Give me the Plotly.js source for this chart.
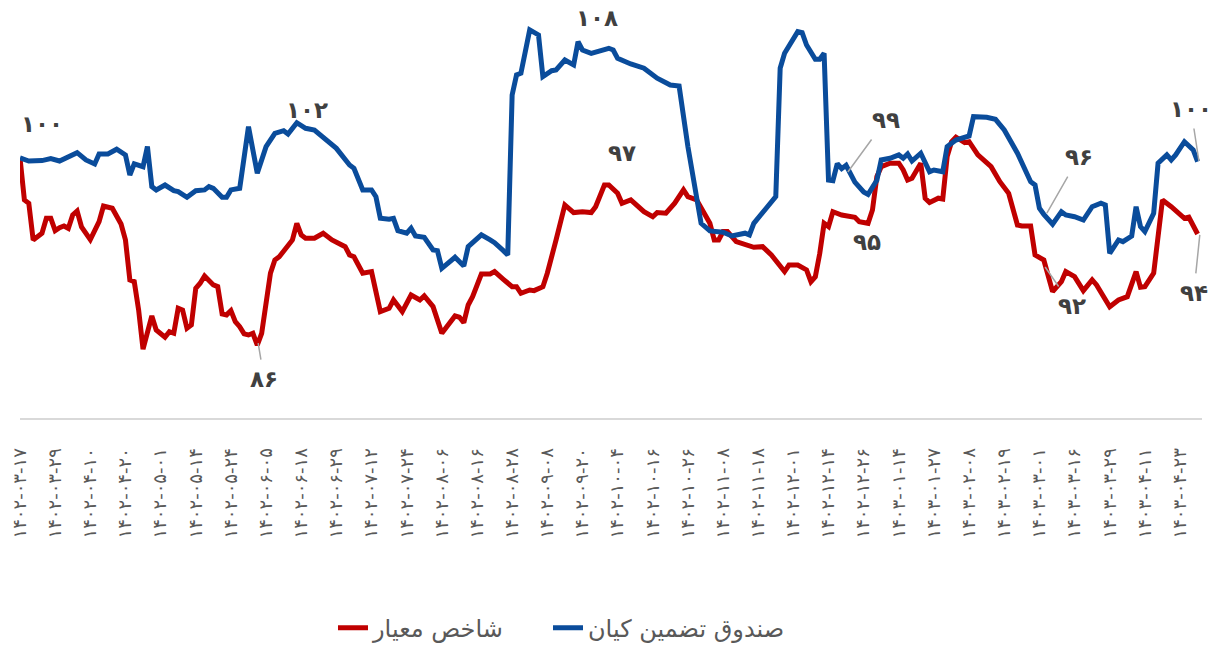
<!DOCTYPE html>
<html>
<head>
<meta charset="utf-8">
<script src="https://cdn.plot.ly/plotly-3.0.1.min.js"></script>
<style>
html,body{margin:0;padding:0;background:#fff;}
#chart{width:1217px;height:647px;}
</style>
</head>
<body>
<div id="chart"></div>
<script>
// Trading-day index of each tick label
const tickDays = [0,8,16,24,32,40,48,56,64,72,80,88,96,104,112,120,128,136,144,152,160,168,176,184,192,200,208,216,224,232,240,248,256,264];
const tickLabels = [
  "۱۴۰۲-۰۳-۱۷","۱۴۰۲-۰۳-۲۹","۱۴۰۲-۰۴-۱۰","۱۴۰۲-۰۴-۲۰","۱۴۰۲-۰۵-۰۱","۱۴۰۲-۰۵-۱۴","۱۴۰۲-۰۵-۲۴",
  "۱۴۰۲-۰۶-۰۵","۱۴۰۲-۰۶-۱۸","۱۴۰۲-۰۶-۲۹","۱۴۰۲-۰۷-۱۲","۱۴۰۲-۰۷-۲۴","۱۴۰۲-۰۸-۰۶","۱۴۰۲-۰۸-۱۶",
  "۱۴۰۲-۰۸-۲۸","۱۴۰۲-۰۹-۰۸","۱۴۰۲-۰۹-۲۰","۱۴۰۲-۱۰-۰۴","۱۴۰۲-۱۰-۱۶","۱۴۰۲-۱۰-۲۶","۱۴۰۲-۱۱-۰۸",
  "۱۴۰۲-۱۱-۱۸","۱۴۰۲-۱۲-۰۱","۱۴۰۲-۱۲-۱۴","۱۴۰۲-۱۲-۲۶","۱۴۰۳-۰۱-۱۴","۱۴۰۳-۰۱-۲۷","۱۴۰۳-۰۲-۰۸",
  "۱۴۰۳-۰۲-۱۹","۱۴۰۳-۰۳-۰۱","۱۴۰۳-۰۳-۱۶","۱۴۰۳-۰۳-۲۹","۱۴۰۳-۰۴-۱۱","۱۴۰۳-۰۴-۲۳"
];

// صندوق تضمین کیان (fund)
const fundDays = [0,2,5,7,9,11,13,15,17,18,20,22,24,25,26,28,29,30,31,33,35,36,38,40,42,43,44,46,47,48,50,52,54,56,58,60,61,63,65,67,69,72,75,76,78,80,81,82,84,85,86,88,89,90,92,94,95,96,99,101,102,105,107,108,110,111,112,113,114,116,118,119,121,122,124,126,127,128,130,134,135,136,139,142,145,148,150,152,155,157,160,162,165,166,167,170,172,173,174,177,178,179,181,182,183,184,185,186,187,188,190,192,193,195,196,198,200,201,202,203,205,207,208,210,211,213,215,216,217,220,222,224,227,230,231,232,233,235,237,238,240,242,244,246,247,248,250,251,253,254,255,256,258,259,261,262,263,265,267,268];
const fundValues = [100.00,99.77,99.80,99.95,99.77,100.05,100.40,99.85,99.55,100.30,100.30,100.66,100.23,98.71,99.55,99.34,100.86,97.83,97.58,97.95,97.52,97.45,97.02,97.52,97.58,97.83,97.70,97.02,97.02,97.58,97.70,102.37,98.84,100.86,101.87,102.07,101.82,102.67,102.25,102.12,101.61,100.73,99.47,99.22,97.58,97.58,97.07,95.43,95.36,95.43,94.49,94.30,94.67,94.09,93.99,93.03,92.98,91.64,92.48,91.82,93.28,94.17,93.79,93.58,92.98,92.65,104.77,106.29,106.42,109.70,109.32,106.16,106.61,106.67,107.42,107.05,108.81,108.18,107.93,108.31,108.18,107.55,107.12,106.80,106.04,105.53,105.45,100.86,95.05,94.47,94.37,94.09,94.30,94.17,95.05,96.19,97.07,106.80,107.93,109.57,109.49,108.56,107.48,107.48,107.93,98.33,98.28,99.57,99.19,99.44,98.17,97.42,97.24,98.30,99.85,99.98,100.23,99.98,100.30,99.77,100.36,98.96,99.09,98.96,100.86,101.36,101.61,101.67,103.13,103.08,102.93,102.12,100.36,98.20,97.95,96.19,95.73,94.98,95.93,95.68,95.55,95.30,96.31,96.57,96.44,92.78,93.79,93.66,94.09,96.31,94.80,94.42,95.81,99.60,100.23,99.85,100.23,101.23,100.61,99.72];

// شاخص معیار (benchmark)
const benchDays = [0,1,2,3,5,6,7,8,9,10,11,12,13,14,16,18,19,21,23,24,25,26,27,28,30,31,33,34,35,36,37,38,39,40,41,42,44,45,46,47,48,49,50,51,52,53,54,55,57,58,59,60,61,62,63,64,65,67,69,71,74,75,76,78,80,82,84,85,87,89,91,92,94,95,96,99,100,101,102,103,105,107,108,110,112,113,114,116,117,119,120,122,124,126,128,130,131,133,134,136,137,139,142,144,145,147,149,151,152,154,156,157,158,159,160,161,163,165,167,169,171,174,175,177,179,180,181,182,183,184,185,187,190,191,193,194,195,196,198,200,201,202,203,205,206,207,209,210,211,212,213,215,216,218,220,221,223,225,227,228,230,231,233,235,237,238,240,242,244,245,248,250,252,254,255,256,258,260,262,265,266,268];
const benchValues = [100.00,96.82,96.57,93.79,94.30,95.43,95.43,94.49,94.72,94.85,94.67,95.68,95.98,94.77,93.81,95.17,96.36,96.19,95.00,93.79,90.76,90.63,88.48,85.51,88.03,86.97,86.42,86.84,86.72,88.61,88.48,87.10,87.35,90.13,90.51,91.06,90.38,90.25,88.18,88.11,88.43,87.60,87.22,86.67,86.59,86.72,85.83,86.72,91.27,92.27,92.52,92.90,93.28,93.79,95.05,94.17,93.92,93.92,94.30,93.79,93.28,92.65,92.52,91.27,91.39,88.36,88.61,89.24,88.36,89.62,89.24,89.55,88.74,87.86,86.72,88.03,87.93,87.52,88.86,89.49,91.21,91.21,91.39,90.81,90.25,90.25,89.75,90.00,89.95,90.25,91.27,93.79,96.44,95.86,95.93,95.86,96.31,97.95,97.95,97.33,96.57,96.82,95.93,95.55,95.86,95.81,96.57,97.58,97.07,96.82,95.55,95.05,93.79,93.79,94.42,94.42,93.66,93.41,93.23,93.28,92.65,91.39,91.89,91.89,91.52,90.63,91.00,92.75,95.05,94.80,95.93,95.68,95.51,95.17,95.05,96.06,98.58,99.34,99.60,99.60,99.09,98.33,98.46,99.60,96.95,96.62,96.95,96.89,100.10,101.23,101.57,101.16,101.23,100.23,99.60,99.34,98.20,97.32,94.92,94.85,94.85,92.65,92.27,89.87,90.63,91.39,91.01,89.95,90.76,90.38,88.73,89.24,89.49,91.39,90.20,90.25,91.27,96.82,96.31,95.43,95.51,94.24];

// Value labels
const labelTexts  = ["۱۰۰","۱۰۲","۱۰۸","۹۷","۹۵"];
const labelDays   = [4.9,65.3,131.3,137,192.8];
const labelValues = [102.6,103.6,110.6,100.4,93.6];
const calloutTexts  = ["۸۶","۹۹","۹۶","۹۲","۱۰۰","۹۴"];
const calloutDays   = [54.2,188.4,233.7,233.3,268.3,268.5];
const calloutValues = [85.98,98.94,95.83,91.74,99.77,94.17];
const calloutDx = [6,38,32,27,-8,-6];
const calloutDy = [36,-52,-56,39,-52,58];

const RED = '#C00000', BLUE = '#0A4C9B', TXT = '#404040';
const FONT = 'DejaVu Sans, Noto Sans, sans-serif';

const traces = [
  {x: benchDays, y: benchValues, type: 'scatter', mode: 'lines', name: 'شاخص معیار',
   line: {color: RED, width: 5}, hoverinfo: 'skip', legend: 'legend'},
  {x: fundDays, y: fundValues, type: 'scatter', mode: 'lines', name: 'صندوق تضمین کیان',
   line: {color: BLUE, width: 5}, hoverinfo: 'skip', legend: 'legend2'}
];

const annotations = [];
labelTexts.forEach((t, i) => annotations.push({
  x: labelDays[i], y: labelValues[i], xref: 'x', yref: 'y', text: '<b>' + t + '</b>',
  showarrow: false, font: {size: 23, color: TXT, family: FONT}
}));
calloutTexts.forEach((t, i) => annotations.push({
  x: calloutDays[i], y: calloutValues[i], xref: 'x', yref: 'y', text: '<b>' + t + '</b>',
  showarrow: true, arrowhead: 0, arrowwidth: 1.5, arrowcolor: '#A6A6A6',
  ax: calloutDx[i], ay: calloutDy[i], borderpad: 6,
  font: {size: 23, color: TXT, family: FONT}
}));

const legendFont = {size: 24, color: '#595959', family: FONT};

const layout = {
  width: 1217, height: 647,
  margin: {l: 20, r: 15, t: 10, b: 229, autoexpand: false},
  paper_bgcolor: '#ffffff', plot_bgcolor: '#ffffff',
  font: {family: FONT, color: '#595959'},
  xaxis: {
    range: [0, 269], showgrid: false, zeroline: false, automargin: false,
    showline: true, linecolor: '#D9D9D9', linewidth: 2,
    tickmode: 'array', tickvals: tickDays, ticktext: tickLabels, tickangle: -90,
    ticks: 'outside', ticklen: 21, tickcolor: 'rgba(0,0,0,0)',
    tickfont: {size: 18, color: '#595959', family: FONT}
  },
  yaxis: {range: [80.30, 111.21], visible: false, showgrid: false, zeroline: false, automargin: false},
  showlegend: true,
  legend: {orientation: 'h', x: 0.2648, xanchor: 'left', y: -0.515, yanchor: 'middle', font: legendFont},
  legend2: {orientation: 'h', x: 0.4467, xanchor: 'left', y: -0.515, yanchor: 'middle', font: legendFont},
  annotations: annotations
};

Plotly.newPlot('chart', traces, layout, {displayModeBar: false, staticPlot: true});
</script>
</body>
</html>
